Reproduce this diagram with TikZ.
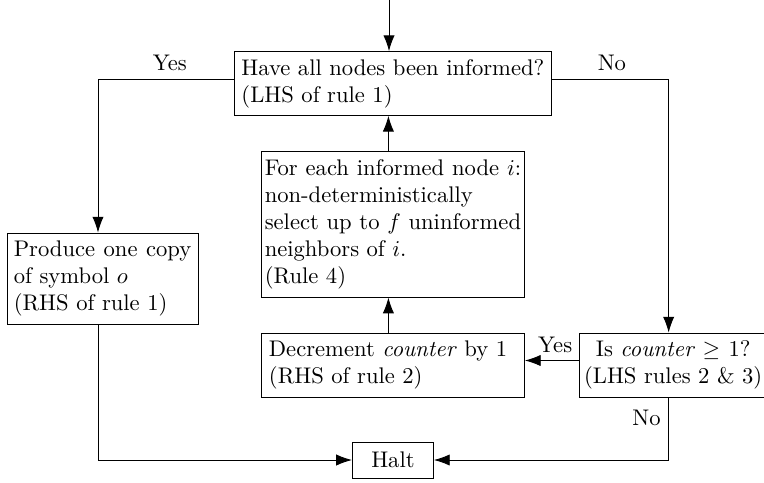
\documentclass[tikz,border=0pt]{standalone}
\usepackage{amsmath}
\usepackage{tikz}
\usetikzlibrary{arrows.meta,positioning,calc}

\begin{document}
\begin{tikzpicture}[
    proc/.style={
        rectangle,
        draw,
        align=justify,
        text width=109.7pt,
        minimum height=0.995cm
    },
    test/.style={
        rectangle,
        draw,
        align=center,
        inner xsep=0.5pt,
        text width=82pt,
        minimum height=0.995cm
    },
    halt/.style={
        rectangle,
        draw,
        minimum width=1.26cm,
        minimum height=0.56cm
    },
    arrow/.style={-{Latex[length=7pt,width=5pt]}}
]
\useasboundingbox (0,0) rectangle (11.88,7.495);

% Bloques
\node[proc, text width=134pt, minimum height=0.98cm] (informed) at (6.11,6.197) {Have all nodes been informed?\\(LHS of rule 1)};
\node[proc, inner xsep=3pt, text width=78.5pt, minimum height=1.415cm] (produce) at (1.594,3.164) {Produce one copy of symbol $o$\\(RHS of rule 1)};
\node[proc, inner xsep=1.5pt, text width=113.4pt, minimum height=2.255cm] (select) at (6.11,4.004) {For each informed node $i$: non-deterministically\\select up to $f$ uninformed neighbors of $i$.\\(Rule 4)};
\node[proc] (decrement) at (6.11,1.819) {Decrement \textit{counter} by 1\\(RHS of rule 2)};
\node[test] (counter) at (10.468,1.819) {Is \textit{counter} $\geq 1$?\\(LHS rules 2 \& 3)};
\node[halt] (stop) at (6.11,0.342) {Halt};

% Flechas
\coordinate (entry) at (6.049,7.495);
\draw[arrow] (entry) -- (entry |- informed.north);
\draw[arrow] ([yshift=2pt]informed.west) -| node[above, pos=0.235] {Yes} ([xshift=-2pt]produce.north);
\draw[arrow] ([yshift=2pt]informed.east) -| node[above, pos=0.256] {No} ([xshift=-2pt]counter.north);
\draw[arrow] ([yshift=2pt]counter.west) -- node[above, pos=0.44] {Yes} ([yshift=2pt]counter.west -| decrement.east);
\draw[arrow] ([xshift=-2pt]decrement.north) -- ([xshift=-2pt]decrement.north |- select.south);
\draw[arrow] ([xshift=-2pt]select.north) -- ([xshift=-2pt]select.north |- informed.south);
\draw[arrow] ([xshift=-2pt]produce.south) |- (stop.west);
\draw[arrow] ([xshift=-2pt]counter.south) |- node[left, pos=0.16] {No} (stop.east);

\end{tikzpicture}
\end{document}
